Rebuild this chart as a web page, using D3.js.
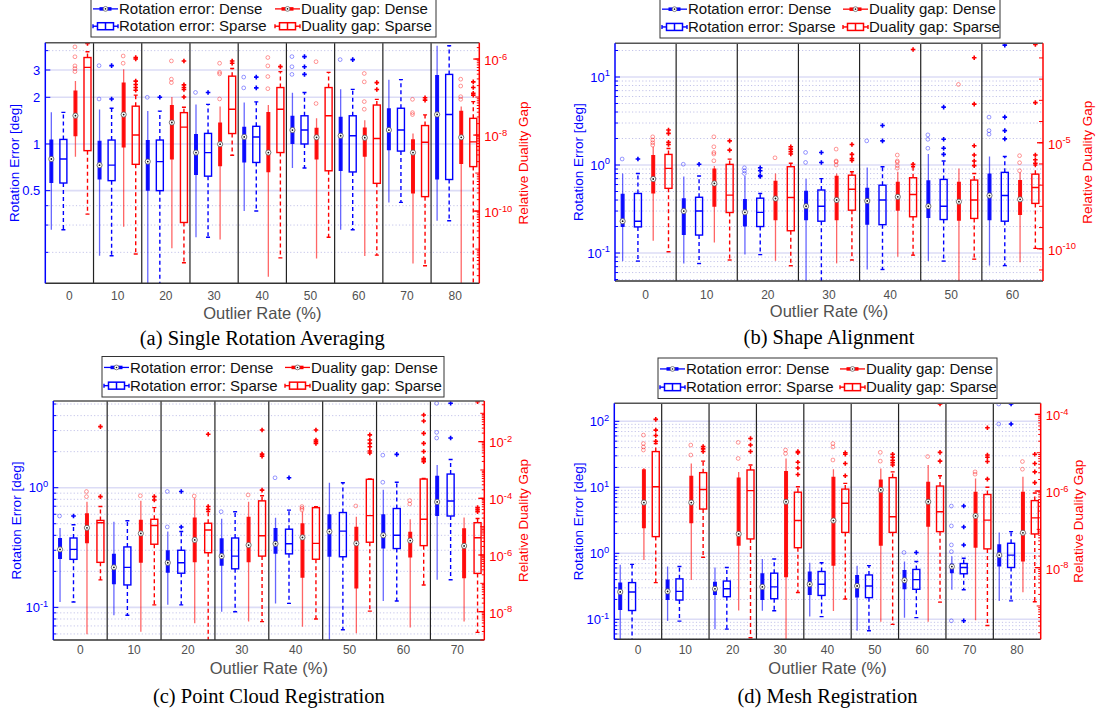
<!DOCTYPE html>
<html>
<head>
<meta charset="utf-8">
<script src="https://cdn.jsdelivr.net/npm/d3@7"></script>
<style>
  body { margin: 0; background: #fff; }
  svg { display: block; font-family: "Liberation Sans", Arial, sans-serif; }
</style>
</head>
<body>
<svg id="chart" width="1096" height="715"></svg>
<script>
/*
  Four box-plot panels, dual log axes.
  Each box = [low whisker, q1, median, q3, high whisker, [outliers]]
  Rotation error in degrees, duality gap stored as log10(gap).
*/

// ---------- (a) Single Rotation Averaging ----------
const ratesA = [0, 10, 20, 30, 40, 50, 60, 70, 80];
const rotDenseA = [
  [0.28, 0.56, 0.80, 1.07, 1.60, []],
  [0.19, 0.59, 0.73, 1.05, 1.67, [1.95, 3.2]],
  [0.10, 0.50, 0.77, 1.06, 1.63, [2.0]],
  [0.25, 0.63, 0.88, 1.16, 1.80, [2.15]],
  [0.37, 0.76, 1.11, 1.29, 1.85, [2.3, 2.7]],
  [0.70, 1.00, 1.23, 1.52, 2.14, [2.81, 3.15, 3.66]],
  [0.28, 0.67, 1.13, 1.50, 2.25, [3.5]],
  [0.42, 0.91, 1.23, 1.70, 2.60, []],
  [0.32, 0.59, 1.55, 2.79, 4.30, []]
];
const rotSparseA = [
  [0.28, 0.56, 0.80, 1.07, 1.60, []],
  [0.19, 0.58, 0.73, 1.06, 1.70, [1.95, 3.2]],
  [0.10, 0.50, 0.77, 1.06, 1.63, [2.0]],
  [0.25, 0.62, 0.88, 1.17, 1.80, [2.15]],
  [0.37, 0.76, 1.11, 1.30, 1.87, [2.3, 2.7]],
  [0.70, 1.00, 1.23, 1.52, 2.15, [2.81, 3.15, 3.66]],
  [0.28, 0.66, 1.13, 1.52, 2.25, [3.5]],
  [0.42, 0.90, 1.23, 1.70, 2.60, []],
  [0.32, 0.59, 1.55, 2.81, 4.30, []]
];
const gapDenseA = [
  [-8.57, -8.03, -7.49, -6.83, -6.58, [-5.68, -5.94, -6.18, -6.25, -6.33]],
  [-10.41, -8.33, -7.46, -6.62, -6.27, [-5.92, -6.11]],
  [-10.98, -8.64, -7.67, -7.21, -7.0, [-6.05, -6.53, -6.62]],
  [-10.75, -8.82, -8.24, -7.67, -7.25, [-6.11, -6.35, -6.39, -7.05]],
  [-11.73, -8.98, -8.46, -7.39, -7.21, [-5.96, -6.18, -6.46, -6.78]],
  [-11.25, -8.64, -8.06, -7.81, -7.56, [-6.07, -7.17]],
  [-11.18, -8.57, -8.07, -7.80, -7.61, [-6.38, -6.6, -7.12, -7.32]],
  [-11.38, -9.54, -8.46, -8.11, -7.96, [-7.06, -7.41, -7.46]],
  [-12.2, -8.76, -8.06, -7.36, -7.25, [-6.53, -6.71, -6.99, -7.06]]
];
const gapSparseA = [
  [-10.08, -8.41, -6.22, -5.96, -5.81, [-5.59]],
  [-11.13, -8.77, -8.0, -7.24, -6.95, [-5.96, -6.0, -6.58, -6.67, -6.75, -6.82]],
  [-11.36, -10.30, -7.79, -7.41, -7.27, [-6.05, -6.68, -6.75, -6.8, -7.0]],
  [-8.53, -7.96, -7.32, -6.45, -6.25, [-6.05, -6.11]],
  [-11.23, -8.46, -7.32, -6.75, -6.33, [-6.2]],
  [-10.69, -8.94, -7.49, -6.75, -6.35, []],
  [-11.16, -9.27, -8.09, -7.21, -7.06, [-6.62, -6.8]],
  [-11.44, -9.62, -8.19, -7.75, -7.47, [-7.02, -7.08]],
  [-12.2, -8.83, -8.18, -7.56, -7.12, [-6.6, -6.75, -6.9, -6.95]]
];

// ---------- (b) Shape Alignment ----------
const ratesB = [0, 10, 20, 30, 40, 50, 60];
const rotDenseB = [
  [0.081, 0.198, 0.23, 0.47, 0.80, [1.17]],
  [0.076, 0.16, 0.30, 0.42, 0.74, [1.02]],
  [0.096, 0.20, 0.29, 0.41, 0.75, [0.80, 0.86, 0.93]],
  [0.04, 0.236, 0.34, 0.51, 0.70, [1.07, 1.39]],
  [0.065, 0.21, 0.39, 0.55, 0.94, [1.88]],
  [0.081, 0.25, 0.34, 0.67, 1.33, [1.55, 1.96, 2.2]],
  [0.072, 0.236, 0.45, 0.80, 1.25, [2.24, 2.46, 3.5]]
];
const rotSparseB = [
  [0.081, 0.198, 0.23, 0.475, 0.80, [1.17]],
  [0.076, 0.16, 0.30, 0.43, 0.75, [1.02]],
  [0.096, 0.20, 0.29, 0.42, 0.475, [0.74, 0.76, 0.86, 0.93]],
  [0.04, 0.23, 0.34, 0.52, 0.70, [1.07, 1.39]],
  [0.065, 0.21, 0.40, 0.59, 0.957, [1.88, 2.81]],
  [0.081, 0.24, 0.34, 0.686, 1.11, [1.32, 1.55, 1.96, 4.55]],
  [0.072, 0.23, 0.45, 0.825, 1.25, [1.98, 2.46, 3.5, 23]]
];
const gapDenseB = [
  [-9.62, -7.39, -6.71, -5.58, -5.19, [-4.72, -4.87, -5.0, -5.11]],
  [-9.7, -8.02, -6.92, -6.21, -6.1, [-4.72, -5.19, -5.46, -5.53, -5.85]],
  [-10.57, -8.65, -7.63, -6.79, -6.45, [-5.71]],
  [-10.69, -8.65, -7.7, -6.56, -6.45, [-5.3, -5.86, -5.9, -6.05]],
  [-10.38, -8.21, -7.55, -6.84, -6.37, [-5.58, -5.86, -5.92, -6.08, -6.2]],
  [-12.0, -8.68, -7.78, -6.84, -6.21, [-2.25]],
  [-10.64, -8.41, -7.67, -6.76, -6.4, [-5.61, -5.94, -6.32]]
];
const gapSparseB = [
  [-10.14, -7.15, -6.21, -5.55, -5.27, [-4.4, -4.56, -4.98, -5.08]],
  [-10.53, -8.29, -7.47, -6.02, -5.77, [-4.91, -5.35]],
  [-10.8, -9.15, -7.58, -6.13, -5.97, [-5.19, -5.3, -5.42, -5.53]],
  [-10.53, -8.18, -7.19, -6.53, -6.37, [-5.08, -5.55, -5.74, -5.83]],
  [-10.3, -8.49, -7.44, -6.65, -6.13, [-0.6, -6.02]],
  [-10.49, -8.57, -7.7, -6.76, -6.45, [-0.99, -3.18, -5.14, -5.58, -5.86, -6.08]],
  [-9.98, -7.86, -7.11, -6.48, -6.05, [-0.36, -3.11, -5.58, -5.8, -5.97]]
];

// ---------- (c) Point Cloud Registration ----------
const ratesC = [0, 10, 20, 30, 40, 50, 60, 70];
const rotDenseC = [
  [0.111, 0.254, 0.305, 0.38, 0.46, [0.58]],
  [0.086, 0.156, 0.216, 0.28, 0.52, []],
  [0.105, 0.195, 0.236, 0.30, 0.43, [0.47, 0.93]],
  [0.092, 0.223, 0.268, 0.378, 0.55, [0.63]],
  [0.108, 0.28, 0.34, 0.46, 0.56, [1.21]],
  [0.04, 0.265, 0.43, 0.60, 1.10, []],
  [0.113, 0.31, 0.40, 0.60, 0.96, [1.11, 1.87]],
  [0.17, 0.58, 0.76, 1.26, 1.55, [2.6, 2.9, 5.07]]
];
const rotSparseC = [
  [0.111, 0.252, 0.305, 0.38, 0.49, [0.58]],
  [0.086, 0.154, 0.216, 0.32, 0.53, []],
  [0.105, 0.193, 0.236, 0.30, 0.43, [0.47, 0.93]],
  [0.092, 0.21, 0.268, 0.38, 0.63, []],
  [0.108, 0.28, 0.34, 0.45, 0.65, [1.21]],
  [0.065, 0.265, 0.434, 0.62, 1.10, []],
  [0.113, 0.31, 0.40, 0.67, 1.11, [1.9]],
  [0.17, 0.58, 0.774, 1.30, 1.72, [2.6, 5.07]]
];
const gapDenseC = [
  [-8.8, -5.59, -5.04, -4.53, -4.12, [-3.76, -3.94]],
  [-8.71, -6.27, -5.24, -4.76, -4.09, [-3.91]],
  [-8.41, -6.26, -5.47, -4.68, -4.0, [-3.92]],
  [-8.35, -6.26, -5.65, -4.65, -4.12, [-3.88]],
  [-8.53, -6.8, -5.38, -4.88, -4.47, [-4.29, -4.35, -4.41]],
  [-8.76, -7.18, -5.59, -5.0, -4.65, [-4.27]],
  [-8.56, -6.09, -5.49, -5.18, -4.74, [-4.08, -4.2]],
  [-8.35, -6.82, -5.68, -5.06, -4.68, []]
];
const gapSparseC = [
  [-6.88, -6.26, -4.86, -4.78, -4.29, [-3.94, -1.47]],
  [-7.76, -5.62, -4.96, -4.74, -4.33, [-3.94, -4.06]],
  [-9.3, -5.92, -5.12, -4.88, -4.47, [-1.74, -4.29, -4.39]],
  [-8.35, -6.04, -5.32, -4.09, -3.91, [-1.59, -2.44, -2.51, -3.71]],
  [-8.26, -6.15, -5.59, -4.33, -4.3, [-1.59, -1.94, -2.0, -2.06]],
  [-7.98, -5.55, -4.61, -3.33, -3.32, [-1.76, -1.94, -2.06, -2.18, -2.33, -2.4]],
  [-7.06, -5.67, -4.74, -3.32, -3.3, [-1.06, -1.27, -1.71, -2.06, -2.35, -2.6, -2.65, -2.71]],
  [-8.73, -6.65, -5.39, -4.86, -4.71, [-0.59, -4.33, -4.4, -4.47]]
];

// ---------- (d) Mesh Registration ----------
const ratesD = [0, 10, 20, 30, 40, 50, 60, 70, 80];
const rotDenseD = [
  [0.04, 0.138, 0.26, 0.36, 0.67, []],
  [0.094, 0.196, 0.265, 0.40, 0.63, []],
  [0.071, 0.234, 0.29, 0.37, 0.61, []],
  [0.135, 0.196, 0.31, 0.50, 0.82, []],
  [0.11, 0.234, 0.34, 0.53, 0.72, []],
  [0.067, 0.215, 0.32, 0.47, 0.65, []],
  [0.106, 0.285, 0.39, 0.56, 0.75, [1.03]],
  [0.28, 0.50, 0.63, 0.70, 0.90, [0.095, 1.06, 1.34, 2.6, 5.2]],
  [0.19, 0.63, 0.94, 1.37, 2.06, [91, 183]]
];
const rotSparseD = [
  [0.04, 0.136, 0.26, 0.36, 0.68, []],
  [0.094, 0.196, 0.265, 0.41, 0.63, []],
  [0.071, 0.22, 0.29, 0.38, 0.61, []],
  [0.135, 0.205, 0.31, 0.50, 0.82, []],
  [0.11, 0.23, 0.34, 0.53, 0.72, []],
  [0.067, 0.213, 0.32, 0.47, 0.65, []],
  [0.106, 0.285, 0.40, 0.57, 0.75, [1.03]],
  [0.28, 0.49, 0.61, 0.70, 0.84, [0.095, 1.34, 2.5, 5.2]],
  [0.19, 0.61, 0.94, 1.42, 2.13, [91, 183]]
];
const gapDenseD = [
  [-7.8, -6.97, -6.3, -5.43, -5.4, [-4.54, -4.76, -4.85, -4.93]],
  [-8.32, -6.84, -6.3, -5.6, -5.28, [-4.8, -5.06]],
  [-9.12, -7.43, -7.12, -5.65, -5.5, [-4.73, -5.15]],
  [-10.2, -8.25, -6.28, -5.48, -5.15, [-4.93, -5.02]],
  [-9.13, -7.95, -6.77, -5.63, -5.43, [-4.76, -4.85, -5.19]],
  [-9.41, -7.43, -5.97, -5.7, -5.41, [-4.99, -5.22]],
  [-9.41, -6.93, -6.28, -5.76, -5.32, [-5.1]],
  [-9.37, -7.48, -6.65, -6.02, -5.67, [-5.5, -5.56]],
  [-8.64, -7.84, -7.09, -6.02, -5.63, [-5.23, -5.43]]
];
const gapSparseD = [
  [-8.39, -7.19, -5.89, -4.97, -4.76, [-4.13, -4.41, -4.55, -4.7]],
  [-7.73, -6.47, -5.96, -5.52, -5.22, [-4.84, -4.9, -4.97]],
  [-9.83, -7.25, -5.99, -5.45, -5.32, [-4.63, -4.8, -4.97]],
  [-8.65, -7.48, -6.77, -6.03, -5.89, [-4.97, -5.0, -5.25, -5.4, -5.57]],
  [-8.82, -7.08, -6.32, -5.95, -5.8, [-5.0, -5.04, -5.28, -5.6]],
  [-9.48, -7.08, -6.67, -5.65, -5.5, [-5.04, -5.12, -5.2, -5.26, -5.32]],
  [-8.9, -7.06, -6.54, -5.87, -5.6, [-3.73, -4.99, -5.22]],
  [-9.51, -7.51, -6.76, -6.09, -5.9, [-4.35, -5.06, -5.12, -5.23, -5.69]],
  [-8.89, -7.12, -6.7, -6.25, -6.05, [-5.04, -5.28, -5.5, -5.78]]
];

const LEGEND_LABELS = [
  'Rotation error: Dense', 'Duality gap: Dense',
  'Rotation error: Sparse', 'Duality gap: Sparse'
];

const BLUE = '#0000ff';
const RED = '#ff0000';
const GRAY_TEXT = '#505050';

// layout of each panel (pixel positions, domains, ticks)
const PANELS = [
  {
    id: 'a', caption: '(a) Single Rotation Averaging',
    rates: ratesA, rotDense: rotDenseA, rotSparse: rotSparseA, gapDense: gapDenseA, gapSparse: gapSparseA,
    x0: 45.3, x1: 479.3, y0: 42.7, y1: 283.3,
    leftDomain: [0.1263, 4.50], rightExp: [-11.9, -5.57],
    leftMajor: [0.5, 1, 2, 3], leftMinor: [0.2, 0.3, 0.4, 4], leftPow: false,
    rightMajor: [-10, -8, -6], rightSub: true,
    legend: { x: 91, y: -1.5, w: 345, h: 38.5, col2: 182 },
    xTickY: 296, xLabelY: 313, captionY: 338,
    leftTitleX: 14, rightTitleX: 523
  },
  {
    id: 'b', caption: '(b) Shape Alignment',
    rates: ratesB, rotDense: rotDenseB, rotSparse: rotSparseB, gapDense: gapDenseB, gapSparse: gapSparseB,
    x0: 615, x1: 1043, y0: 43.3, y1: 281,
    leftDomain: [0.0481, 24.15], rightExp: [-11.52, -0.31],
    leftMajor: null, leftMinor: null, leftPow: true,
    rightMajor: [-10, -5], rightSub: false,
    legend: { x: 660, y: -1.5, w: 340, h: 39.5, col2: 181 },
    xTickY: 295, xLabelY: 311, captionY: 337,
    leftTitleX: 578, rightTitleX: 1087
  },
  {
    id: 'c', caption: '(c) Point Cloud Registration',
    rates: ratesC, rotDense: rotDenseC, rotSparse: rotSparseC, gapDense: gapDenseC, gapSparse: gapSparseC,
    x0: 53.3, x1: 484.3, y0: 401, y1: 640,
    leftDomain: [0.0534, 5.30], rightExp: [-9.0, -0.566],
    leftMajor: null, leftMinor: null, leftPow: true,
    rightMajor: [-8, -6, -4, -2], rightSub: true,
    legend: { x: 102, y: 356.5, w: 342, h: 40.5, col2: 181 },
    xTickY: 650, xLabelY: 668.5, captionY: 696,
    leftTitleX: 16, rightTitleX: 523
  },
  {
    id: 'd', caption: '(d) Mesh Registration',
    rates: ratesD, rotDense: rotDenseD, rotSparse: rotSparseD, gapDense: gapDenseD, gapSparse: gapSparseD,
    x0: 614.3, x1: 1040.7, y0: 403.3, y1: 639.3,
    leftDomain: [0.0498, 187.5], rightExp: [-9.87, -3.71],
    leftMajor: null, leftMinor: null, leftPow: true,
    rightMajor: [-8, -6, -4], rightSub: true,
    legend: { x: 658, y: 358, w: 339, h: 40.5, col2: 180 },
    xTickY: 650, xLabelY: 668.5, captionY: 696,
    leftTitleX: 578, rightTitleX: 1078
  }
];

const svg = d3.select('#chart');

// "10" with a raised exponent
function powText(sel, e) {
  sel.text('10');
  sel.append('tspan').attr('dy', '-0.55em').attr('font-size', '0.72em').text(e);
}

// k * 10^n values inside [lo, hi] (exponent bounds)
function subDecadeTicks(lo, hi, withSub) {
  const out = [];
  for (let n = Math.floor(lo); n <= Math.ceil(hi); n++) {
    const ks = withSub ? d3.range(1, 10) : [1];
    ks.forEach(k => {
      const e = n + Math.log10(k);
      if (e >= lo && e <= hi) out.push(e);
    });
  }
  return out;
}

function drawDense(g, x, y, d, color) {
  const [lo, q1, med, q3, hi, outs] = d;
  g.append('line')
    .attr('x1', x).attr('x2', x).attr('y1', y(lo)).attr('y2', y(hi))
    .attr('stroke', color).attr('stroke-width', 1.3).attr('stroke-opacity', 0.6);
  g.append('line')
    .attr('x1', x).attr('x2', x).attr('y1', y(q1)).attr('y2', y(q3))
    .attr('stroke', color).attr('stroke-width', 4).attr('stroke-opacity', 0.92);
  outs.forEach(o => {
    g.append('circle')
      .attr('cx', x - 0.5).attr('cy', y(o)).attr('r', 1.9)
      .attr('fill', 'none').attr('stroke', color).attr('stroke-width', 0.8).attr('stroke-opacity', 0.5);
  });
  g.append('circle')
    .attr('cx', x).attr('cy', y(med)).attr('r', 2.6)
    .attr('fill', '#fff').attr('stroke', '#555').attr('stroke-width', 0.8);
  g.append('circle')
    .attr('cx', x).attr('cy', y(med)).attr('r', 0.9).attr('fill', '#111');
}

function drawSparse(g, x, y, d, color) {
  const [lo, q1, med, q3, hi, outs] = d;
  const bw = 7, cw = 2;
  [[q3, hi], [q1, lo]].forEach(([a, b]) => {
    g.append('line')
      .attr('x1', x).attr('x2', x).attr('y1', y(a)).attr('y2', y(b))
      .attr('stroke', color).attr('stroke-width', 1.4).attr('stroke-dasharray', '4,3');
  });
  [lo, hi].forEach(v => {
    g.append('line')
      .attr('x1', x - cw).attr('x2', x + cw).attr('y1', y(v)).attr('y2', y(v))
      .attr('stroke', color).attr('stroke-width', 1.4);
  });
  g.append('rect')
    .attr('x', x - bw / 2).attr('y', y(q3))
    .attr('width', bw).attr('height', Math.max(0.5, y(q1) - y(q3)))
    .attr('fill', 'none').attr('stroke', color).attr('stroke-width', 1.4);
  g.append('line')
    .attr('x1', x - bw / 2).attr('x2', x + bw / 2).attr('y1', y(med)).attr('y2', y(med))
    .attr('stroke', color).attr('stroke-width', 1.4);
  outs.forEach(o => {
    const cy = y(o), s = 2.3;
    g.append('path')
      .attr('d', `M${x - s},${cy}H${x + s}M${x},${cy - s}V${cy + s}`)
      .attr('stroke', color).attr('stroke-width', 1.6).attr('fill', 'none');
  });
}

function drawLegend(L) {
  const lg = svg.append('g');
  lg.append('rect')
    .attr('x', L.x).attr('y', L.y).attr('width', L.w).attr('height', L.h)
    .attr('fill', '#fff').attr('stroke', '#333').attr('stroke-width', 1);

  LEGEND_LABELS.forEach((label, i) => {
    const col = i % 2, row = Math.floor(i / 2);
    const color = col === 0 ? BLUE : RED;
    const gx = L.x + 2 + col * L.col2;
    const gy = L.y + L.h * (row === 0 ? 0.27 : 0.72);
    const cx = gx + 12.5;

    if (row === 0) {
      lg.append('line').attr('x1', gx).attr('x2', gx + 25).attr('y1', gy).attr('y2', gy)
        .attr('stroke', color).attr('stroke-width', 1.3);
      lg.append('line').attr('x1', cx - 6).attr('x2', cx + 6).attr('y1', gy).attr('y2', gy)
        .attr('stroke', color).attr('stroke-width', 3.5);
      lg.append('circle').attr('cx', cx).attr('cy', gy).attr('r', 2.4)
        .attr('fill', '#fff').attr('stroke', '#666').attr('stroke-width', 0.8);
      lg.append('circle').attr('cx', cx).attr('cy', gy).attr('r', 0.8).attr('fill', '#111');
    } else {
      lg.append('line').attr('x1', gx).attr('x2', gx + 25).attr('y1', gy).attr('y2', gy)
        .attr('stroke', color).attr('stroke-width', 1.4);
      lg.append('line').attr('x1', gx).attr('x2', gx).attr('y1', gy - 2).attr('y2', gy + 2)
        .attr('stroke', color).attr('stroke-width', 1.4);
      lg.append('line').attr('x1', gx + 25).attr('x2', gx + 25).attr('y1', gy - 2).attr('y2', gy + 2)
        .attr('stroke', color).attr('stroke-width', 1.4);
      lg.append('rect').attr('x', cx - 8).attr('y', gy - 3.5).attr('width', 16).attr('height', 7)
        .attr('fill', '#fff').attr('stroke', color).attr('stroke-width', 1.5);
      lg.append('line').attr('x1', cx).attr('x2', cx).attr('y1', gy - 3.5).attr('y2', gy + 3.5)
        .attr('stroke', color).attr('stroke-width', 1.5);
    }

    lg.append('text')
      .attr('x', gx + 26).attr('y', gy).attr('dy', '0.35em')
      .attr('font-size', 15).attr('fill', '#111')
      .text(label);
  });
}

function drawPanel(p) {
  const g = svg.append('g');

  const x = d3.scaleBand().domain(p.rates).range([p.x0, p.x1]);
  const xi = d3.scaleBand().domain(['rd', 'rs', 'gd', 'gs']).range([0, x.bandwidth()]);
  const yL = d3.scaleLog().domain(p.leftDomain).range([p.y1, p.y0]);
  const yR = d3.scaleLog().domain(p.rightExp.map(e => Math.pow(10, e))).range([p.y1, p.y0]);
  const yG = e => yR(Math.pow(10, e));

  // left axis ticks
  let leftMajor = p.leftMajor, leftMinor = p.leftMinor;
  if (!leftMajor) {
    const all = yL.ticks();
    leftMajor = all.filter(v => Math.abs(Math.log10(v) - Math.round(Math.log10(v))) < 1e-9);
    leftMinor = all.filter(v => !leftMajor.includes(v));
  }

  // grid
  g.append('g').selectAll('line').data(leftMinor).join('line')
    .attr('x1', p.x0).attr('x2', p.x1).attr('y1', d => yL(d)).attr('y2', d => yL(d))
    .attr('stroke', '#c4c4ea').attr('stroke-width', 1).attr('stroke-dasharray', '1.2,2.2');
  g.append('g').selectAll('line').data(leftMajor).join('line')
    .attr('x1', p.x0).attr('x2', p.x1).attr('y1', d => yL(d)).attr('y2', d => yL(d))
    .attr('stroke', '#dcdcf6').attr('stroke-width', 1.6);

  // group separators
  g.append('g').selectAll('line').data(p.rates.slice(1)).join('line')
    .attr('x1', d => x(d)).attr('x2', d => x(d)).attr('y1', p.y0).attr('y2', p.y1)
    .attr('stroke', '#222').attr('stroke-width', 1.2);

  // boxes
  const clipId = 'clip-' + p.id;
  svg.append('clipPath').attr('id', clipId).append('rect')
    .attr('x', p.x0).attr('y', p.y0).attr('width', p.x1 - p.x0).attr('height', p.y1 - p.y0);
  const marks = g.append('g').attr('clip-path', `url(#${clipId})`);

  p.rates.forEach((r, i) => {
    const bx = x(r);
    drawDense(marks, bx + xi('rd') + xi.bandwidth() / 2, yL, p.rotDense[i], BLUE);
    drawSparse(marks, bx + xi('rs') + xi.bandwidth() / 2, yL, p.rotSparse[i], BLUE);
    drawDense(marks, bx + xi('gd') + xi.bandwidth() / 2, yG, p.gapDense[i], RED);
    drawSparse(marks, bx + xi('gs') + xi.bandwidth() / 2, yG, p.gapSparse[i], RED);
  });

  // frame
  g.append('line').attr('x1', p.x0).attr('x2', p.x1).attr('y1', p.y0).attr('y2', p.y0)
    .attr('stroke', '#555').attr('stroke-width', 1.5);
  g.append('line').attr('x1', p.x0).attr('x2', p.x1).attr('y1', p.y1).attr('y2', p.y1)
    .attr('stroke', '#333').attr('stroke-width', 1.5);
  g.append('line').attr('x1', p.x0).attr('x2', p.x0).attr('y1', p.y0).attr('y2', p.y1)
    .attr('stroke', BLUE).attr('stroke-width', 1.5);
  g.append('line').attr('x1', p.x1).attr('x2', p.x1).attr('y1', p.y0).attr('y2', p.y1)
    .attr('stroke', RED).attr('stroke-width', 1.5);

  // left ticks
  g.append('g').selectAll('line').data(leftMinor).join('line')
    .attr('x1', p.x0).attr('x2', p.x0 + 3).attr('y1', d => yL(d)).attr('y2', d => yL(d))
    .attr('stroke', BLUE).attr('stroke-width', 1);
  g.append('g').selectAll('line').data(leftMajor).join('line')
    .attr('x1', p.x0).attr('x2', p.x0 + 5).attr('y1', d => yL(d)).attr('y2', d => yL(d))
    .attr('stroke', BLUE).attr('stroke-width', 1);
  g.append('g').selectAll('text').data(leftMajor).join('text')
    .attr('x', p.x0 - 5).attr('y', d => yL(d)).attr('dy', '0.35em')
    .attr('text-anchor', 'end').attr('font-size', 13).attr('fill', BLUE)
    .each(function (d) {
      const t = d3.select(this);
      if (p.leftPow) powText(t, Math.round(Math.log10(d)));
      else t.text(d3.format('~g')(d));
    });

  // right ticks
  const rTicks = subDecadeTicks(p.rightExp[0], p.rightExp[1], p.rightSub);
  g.append('g').selectAll('line').data(rTicks).join('line')
    .attr('x1', p.x1).attr('x2', d => p.x1 - (Math.abs(d - Math.round(d)) < 1e-9 ? 4 : 2.5))
    .attr('y1', d => yG(d)).attr('y2', d => yG(d))
    .attr('stroke', RED).attr('stroke-width', 1);
  g.append('g').selectAll('line').data(p.rightMajor).join('line')
    .attr('x1', p.x1).attr('x2', p.x1 - 6).attr('y1', d => yG(d)).attr('y2', d => yG(d))
    .attr('stroke', RED).attr('stroke-width', 1.3);
  g.append('g').selectAll('text').data(p.rightMajor).join('text')
    .attr('x', p.x1 + 5).attr('y', d => yG(d)).attr('dy', '0.45em')
    .attr('font-size', 13).attr('fill', RED)
    .each(function (d) { powText(d3.select(this), d); });

  // x tick labels
  g.append('g').selectAll('text').data(p.rates).join('text')
    .attr('x', d => x(d) + x.bandwidth() / 2).attr('y', p.xTickY).attr('dy', '0.35em')
    .attr('text-anchor', 'middle').attr('font-size', 12).attr('fill', GRAY_TEXT)
    .text(d => d);

  const cx = (p.x0 + p.x1) / 2, cy = (p.y0 + p.y1) / 2;

  g.append('text')
    .attr('x', cx).attr('y', p.xLabelY).attr('dy', '0.35em')
    .attr('text-anchor', 'middle').attr('font-size', 16.5).attr('fill', GRAY_TEXT)
    .text('Outlier Rate (%)');

  g.append('text')
    .attr('transform', `translate(${p.leftTitleX},${cy}) rotate(-90)`)
    .attr('dy', '0.35em').attr('text-anchor', 'middle')
    .attr('font-size', 13.5).attr('fill', BLUE)
    .text('Rotation Error [deg]');

  g.append('text')
    .attr('transform', `translate(${p.rightTitleX},${cy}) rotate(-90)`)
    .attr('dy', '0.35em').attr('text-anchor', 'middle')
    .attr('font-size', 13.5).attr('fill', RED)
    .text('Relative Duality Gap');

  g.append('text')
    .attr('x', cx).attr('y', p.captionY).attr('dy', '0.35em')
    .attr('text-anchor', 'middle').attr('font-size', 20.5)
    .attr('font-family', '"Liberation Serif", "Times New Roman", serif')
    .attr('fill', '#000')
    .text(p.caption);

  drawLegend(p.legend);
}

PANELS.forEach(drawPanel);
</script>
</body>
</html>
